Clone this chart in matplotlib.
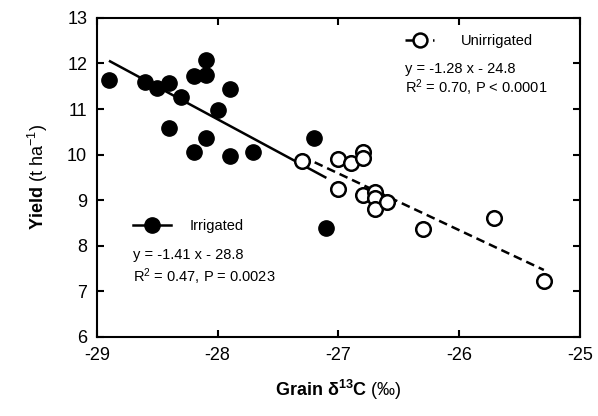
import matplotlib
matplotlib.use("Agg")
import matplotlib.pyplot as plt
from matplotlib.lines import Line2D

plt.rcParams["font.family"] = ["Liberation Sans", "DejaVu Sans"]
plt.rcParams["mathtext.fontset"] = "custom"
plt.rcParams["mathtext.rm"] = "Liberation Sans"
plt.rcParams["mathtext.it"] = "Liberation Sans:italic"
plt.rcParams["mathtext.bf"] = "Liberation Sans:bold"
plt.rcParams["axes.unicode_minus"] = False

# irrigated (filled)
irr_x = [-28.90, -28.60, -28.50, -28.40, -28.30, -28.40, -28.20, -28.10, -28.10,
         -27.90, -28.00, -28.10, -28.20, -27.90, -27.71, -27.20, -27.10]
irr_y = [11.64, 11.59, 11.46, 11.58, 11.27, 10.58, 11.73, 12.08, 11.75,
         11.44, 10.97, 10.36, 10.05, 9.96, 10.05, 10.36, 8.39]

# unirrigated (open)
unirr_x = [-27.30, -27.00, -27.00, -26.90, -26.80, -26.80, -26.80, -26.70, -26.70,
           -26.70, -26.60, -26.30, -25.71, -25.30]
unirr_y = [9.85, 9.91, 9.24, 9.81, 10.05, 9.92, 9.11, 9.19, 9.05,
           8.80, 8.97, 8.37, 8.62, 7.22]

# fitted lines as drawn (end points)
irr_fit_x = [-28.90, -27.10]
irr_fit_y = [12.06, 9.49]
unirr_fit_x = [-27.30, -25.30]
unirr_fit_y = [9.96, 7.47]

irr_eq = ["y = -1.41 x - 28.8", "R$^2$ = 0.47, P = 0.0023"]
unirr_eq = ["y = -1.28 x - 24.8", "R$^2$ = 0.70, P < 0.0001"]

fig = plt.figure(figsize=(5.98, 4.16), dpi=100)
ax = fig.add_axes([0.162, 0.190, 0.808, 0.767])

ax.plot(irr_fit_x, irr_fit_y, color="black", lw=1.8, solid_capstyle="butt")
ax.plot(unirr_fit_x, unirr_fit_y, color="black", lw=1.8, linestyle=(0, (3.5, 2)))
ax.plot(irr_x, irr_y, "o", color="black", ms=11, mec="black", zorder=3)
ax.plot(unirr_x, unirr_y, "o", color="black", ms=10.5, mfc="white", mec="black",
        mew=1.8, zorder=3)

ax.set_xlim(-29, -25)
ax.set_ylim(6, 13)
ax.set_xticks([-29, -28, -27, -26, -25])
ax.set_yticks(range(6, 14))
ax.tick_params(direction="in", length=5, width=1.5, top=True, right=True,
               labelsize=13, pad=7)
for s in ax.spines.values():
    s.set_linewidth(1.5)

ax.set_xlabel(r"$\mathbf{Grain\ δ^{13}C}$ (‰)", fontsize=13, labelpad=10)
ax.set_ylabel(r"$\mathbf{Yield}$ (t ha$^{-1}$)", fontsize=13, labelpad=12)

h_un = Line2D([], [], color="black", lw=1.8, linestyle=(0, (3.5, 2)), marker="o",
              ms=10, mfc="white", mec="black", mew=1.8)
h_ir = Line2D([], [], color="black", lw=1.8, marker="o", ms=11, mfc="black",
              mec="black")

leg1 = ax.legend([h_un], ["Unirrigated"], loc="center left",
                 bbox_to_anchor=(0.638, 0.928), frameon=False, fontsize=10.5,
                 handlelength=2.0, handletextpad=1.8, borderpad=0, borderaxespad=0)
ax.add_artist(leg1)
ax.legend([h_ir], ["Irrigated"], loc="center left",
          bbox_to_anchor=(0.074, 0.348), frameon=False, fontsize=10.5,
          handlelength=2.6, handletextpad=1.3, borderpad=0, borderaxespad=0)

for txt, yy in zip(unirr_eq, [0.840, 0.781]):
    ax.text(0.638, yy, txt, transform=ax.transAxes, fontsize=10.5, va="center")
for txt, yy in zip(irr_eq, [0.257, 0.188]):
    ax.text(0.0745, yy, txt, transform=ax.transAxes, fontsize=10.5, va="center")

fig.savefig("out.png", dpi=100)
